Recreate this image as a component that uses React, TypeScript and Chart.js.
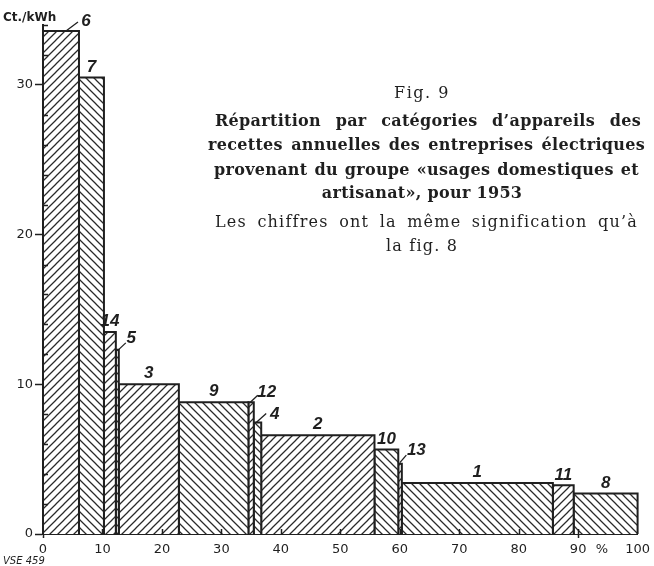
import React, { useEffect, useRef } from 'react';
import { Chart, registerables } from 'chart.js';

Chart.register(...registerables);

// ---- data ----
const categories = ['6', '7', '14', '5', '3', '9', '12', '4', '2', '10', '13', '1', '11', '8'];
// share of annual receipts, % (bar widths)
const shares = [6.05, 4.2, 2.0, 0.5, 10.1, 11.7, 0.9, 1.25, 19.05, 4.0, 0.6, 25.4, 3.5, 10.75];
// average price, Ct./kWh (bar heights)
const prices = [33.6, 30.5, 13.5, 12.3, 10.0, 8.8, 8.8, 7.45, 6.6, 5.65, 4.7, 3.4, 3.25, 2.7];
const xTickValues = [0, 10, 20, 30, 40, 50, 60, 70, 80, 90, 94, 100];
const xTickLabels = ['0', '10', '20', '30', '40', '50', '60', '70', '80', '90', '%', '100'];
const yMajorTicks = [0, 10, 20, 30];
const yMax = 34;
const yTitle = 'Ct./kWh';
const refCode = 'VSE 459';
const captionFig = 'Fig. 9';
const captionBold = [
  'Répartition par catégories d’appareils des',
  'recettes annuelles des entreprises électriques',
  'provenant du groupe «usages domestiques et',
  'artisanat», pour 1953',
];
const captionNormal = ['Les chiffres ont la même signification qu’à', 'la fig. 8'];

// ---- styles ----
const INK = '#1f1f1f';
const HATCH = '#2a2a2a';
// label placement for thin bars with leader lines, relative to the bar's top-right corner
const leaders: Record<string, { lx: number; ly: number; sx: number; sy: number; ex: number; ey: number }> = {
  '6': { lx: 7, ly: -10, sx: -13, sy: 0, ex: -1, ey: -9 },
  '5': { lx: 12.5, ly: -12, sx: -1.5, sy: 1, ex: 7, ey: -7 },
  '12': { lx: 13, ly: -10, sx: -4, sy: 0.5, ex: 4, ey: -7 },
  '4': { lx: 13.5, ly: -8.5, sx: -5, sy: 0, ex: 5, ey: -9 },
  '13': { lx: 14.5, ly: -13, sx: -2, sy: -1, ex: 4.5, ey: -8.5 },
};
// caption layout (justified spans / baselines)
const boldSpans = [[215, 641], [208, 645], [214, 639]];
const boldBaselines = [126, 150, 174.5, 197.5];
const normSpans = [[215, 638]];
const normBaselines = [227, 251];

function makeHatch(dir: number): CanvasPattern | string {
  const s = 8;
  const c = document.createElement('canvas');
  c.width = s;
  c.height = s;
  const g = c.getContext('2d');
  if (!g) return '#fff';
  g.fillStyle = '#fff';
  g.fillRect(0, 0, s, s);
  g.strokeStyle = HATCH;
  g.lineWidth = 1.25;
  g.beginPath();
  if (dir > 0) {
    g.moveTo(-1, s + 1); g.lineTo(s + 1, -1);
    g.moveTo(-1, 1); g.lineTo(1, -1);
    g.moveTo(s - 1, s + 1); g.lineTo(s + 1, s - 1);
  } else {
    g.moveTo(-1, -1); g.lineTo(s + 1, s + 1);
    g.moveTo(s - 1, -1); g.lineTo(s + 1, 1);
    g.moveTo(-1, s - 1); g.lineTo(1, s + 1);
  }
  g.stroke();
  return g.createPattern(c, 'repeat') || '#fff';
}

function lefts(): number[] {
  const out: number[] = [];
  let acc = 0;
  shares.forEach((w) => { out.push(acc); acc += w; });
  return out;
}

function drawJustified(ctx: CanvasRenderingContext2D, text: string, x0: number, x1: number, y: number) {
  const words = text.split(' ');
  const ws = words.map((w) => ctx.measureText(w).width);
  const total = ws.reduce((a, b) => a + b, 0);
  const gap = words.length > 1 ? (x1 - x0 - total) / (words.length - 1) : 0;
  let x = x0;
  ctx.textAlign = 'left';
  words.forEach((w, i) => {
    ctx.fillText(w, x, y);
    x += ws[i] + gap;
  });
}

export default function App() {
  const ref = useRef<HTMLCanvasElement | null>(null);

  useEffect(() => {
    if (!ref.current) return;
    const L = lefts();
    const pats = [makeHatch(1), makeHatch(-1)];

    const datasets = categories.map((c, i) => {
      const l = L[i];
      const r = l + shares[i];
      const v = prices[i];
      return {
        label: c,
        data: [
          { x: l, y: 0 },
          { x: l, y: v },
          { x: r, y: v },
          { x: r, y: 0 },
        ],
        borderColor: INK,
        borderWidth: 2,
        pointRadius: 0,
        pointHoverRadius: 0,
        tension: 0,
        fill: 'origin',
        backgroundColor: pats[i % 2],
        clip: false,
      };
    });

    const decor = {
      id: 'decor',
      beforeDraw(chart: any) {
        const { ctx, width, height } = chart;
        ctx.save();
        ctx.fillStyle = '#fff';
        ctx.fillRect(0, 0, width, height);
        ctx.restore();
      },
      afterDraw(chart: any) {
        const { ctx, chartArea, scales } = chart;
        const xs = scales.x;
        const ys = scales.y;
        ctx.save();
        ctx.strokeStyle = INK;
        ctx.lineWidth = 1.5;
        // inner minor ticks on y axis
        ys.ticks.forEach((t: any) => {
          if (yMajorTicks.includes(t.value)) return;
          const py = Math.round(ys.getPixelForValue(t.value)) + 0.5;
          ctx.beginPath();
          ctx.moveTo(chartArea.left, py);
          ctx.lineTo(chartArea.left + 5, py);
          ctx.stroke();
        });
        // inner ticks on x axis
        xTickValues.forEach((v, i) => {
          if (v === 0 || v === 100 || xTickLabels[i] === '%') return;
          const px = Math.round(xs.getPixelForValue(v)) + 0.5;
          ctx.beginPath();
          ctx.moveTo(px, chartArea.bottom);
          ctx.lineTo(px, chartArea.bottom - 5);
          ctx.stroke();
        });

        // bar labels
        ctx.fillStyle = INK;
        ctx.font = 'italic bold 17px "Liberation Sans"';
        ctx.textAlign = 'center';
        ctx.textBaseline = 'middle';
        ctx.lineWidth = 1.3;
        categories.forEach((c, i) => {
          const l = L[i];
          const r = l + shares[i];
          const pl = xs.getPixelForValue(l);
          const pr = xs.getPixelForValue(r);
          const pt = ys.getPixelForValue(prices[i]);
          const ld = leaders[c];
          if (ld) {
            ctx.beginPath();
            ctx.moveTo(pr + ld.sx, pt + ld.sy);
            ctx.lineTo(pr + ld.ex, pt + ld.ey);
            ctx.stroke();
            ctx.fillText(c, pr + ld.lx, pt + ld.ly);
          } else {
            ctx.fillText(c, (pl + pr) / 2, pt - 10.5);
          }
        });

        // axis title & reference code
        ctx.textAlign = 'left';
        ctx.textBaseline = 'alphabetic';
        ctx.font = 'bold 12px "DejaVu Sans"';
        ctx.fillText(yTitle, 3, 21);
        ctx.font = 'italic 10px "DejaVu Sans"';
        ctx.fillText(refCode, 3, 564);

        // caption
        const cx = 422;
        ctx.font = '16px "DejaVu Serif"';
        (ctx as any).letterSpacing = '1.5px';
        ctx.textAlign = 'center';
        ctx.fillText(captionFig, cx, 98);
        ctx.font = 'bold 16px "DejaVu Serif"';
        (ctx as any).letterSpacing = '0.3px';
        captionBold.forEach((line, i) => {
          const sp = boldSpans[i];
          if (sp) drawJustified(ctx, line, sp[0], sp[1], boldBaselines[i]);
          else {
            ctx.textAlign = 'center';
            ctx.fillText(line, cx, boldBaselines[i]);
          }
        });
        ctx.font = '16px "DejaVu Serif"';
        (ctx as any).letterSpacing = '1.2px';
        captionNormal.forEach((line, i) => {
          const sp = normSpans[i];
          if (sp) drawJustified(ctx, line, sp[0], sp[1], normBaselines[i]);
          else {
            ctx.textAlign = 'center';
            ctx.fillText(line, cx, normBaselines[i]);
          }
        });
        (ctx as any).letterSpacing = '0px';
        ctx.restore();
      },
    };

    const chart = new Chart(ref.current, {
      type: 'line',
      data: { datasets: datasets as any },
      plugins: [decor],
      options: {
        animation: false,
        responsive: true,
        maintainAspectRatio: false,
        layout: { padding: { top: 25, right: 16, left: 0, bottom: 0 } },
        plugins: {
          legend: { display: false },
          tooltip: { enabled: false },
        },
        elements: { line: { borderJoinStyle: 'miter' } },
        scales: {
          x: {
            type: 'linear',
            min: 0,
            max: 100,
            afterBuildTicks: (s: any) => {
              s.ticks = xTickValues.map((v) => ({ value: v }));
            },
            afterFit: (s: any) => {
              s.height = 32;
            },
            ticks: {
              autoSkip: false,
              maxRotation: 0,
              padding: 4,
              color: INK,
              font: { family: 'DejaVu Sans', size: 13 },
              callback: (_v: any, i: number) => xTickLabels[i],
            },
            grid: {
              drawOnChartArea: false,
              tickLength: 4,
              tickWidth: 1.5,
              tickColor: (ctx: any) => (ctx.tick && (ctx.tick.value === 0 || ctx.tick.value === 90) ? INK : 'transparent'),
            },
            border: { color: INK, width: 2 },
          },
          y: {
            min: 0,
            max: yMax,
            afterFit: (s: any) => {
              s.width = 43;
            },
            ticks: {
              stepSize: 2,
              autoSkip: false,
              padding: 2,
              color: INK,
              font: { family: 'DejaVu Sans', size: 13 },
              callback: (v: any) => (yMajorTicks.includes(Number(v)) ? String(v) : ''),
            },
            grid: {
              drawOnChartArea: false,
              tickLength: 8,
              tickWidth: 1.5,
              tickColor: (ctx: any) => (ctx.tick && yMajorTicks.includes(ctx.tick.value) ? INK : 'transparent'),
            },
            border: { color: INK, width: 2 },
          },
        },
      } as any,
    });
    return () => chart.destroy();
  }, []);

  return (
    <div style={{ position: 'absolute', left: 0, top: 0, width: 654, height: 566, background: '#fff' }}>
      <canvas ref={ref} />
    </div>
  );
}
